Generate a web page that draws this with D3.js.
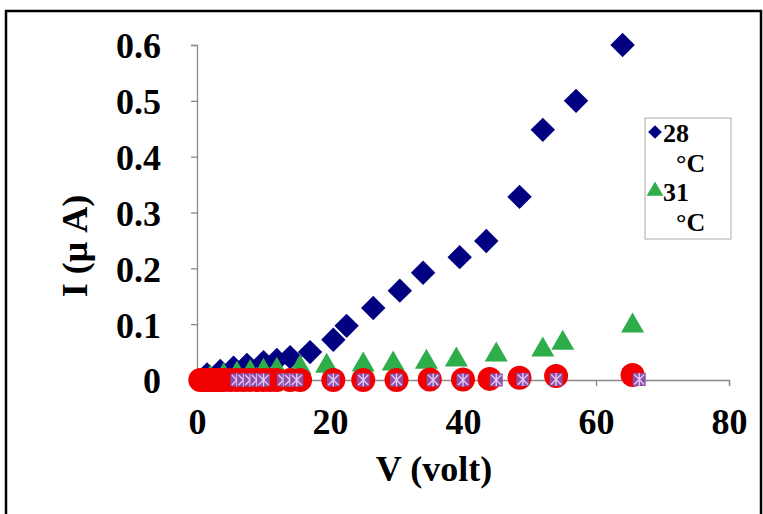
<!DOCTYPE html>
<html><head><meta charset="utf-8">
<script src="https://cdn.jsdelivr.net/npm/d3@7"></script>
<style>body{margin:0;background:#fff;}svg{display:block;}</style>
</head><body>
<script>
// ---- data ----
const xTicks = [0, 20, 40, 60, 80];
const yTicks = [0, 0.1, 0.2, 0.3, 0.4, 0.5, 0.6];
const v28 = [1.5, 3.5, 5.5, 7.5, 10, 12, 14, 17, 20.5, 22.5, 26.5, 30.5, 34, 39.5, 43.5, 48.5, 52, 57, 64];
const i28 = [0.01, 0.016, 0.022, 0.027, 0.032, 0.036, 0.041, 0.05, 0.072, 0.097, 0.129, 0.16, 0.192, 0.22, 0.249, 0.328, 0.448, 0.5, 0.6];
const v31 = [2, 4, 6, 8, 10, 12, 15.5, 19.5, 25, 29.5, 34.5, 39, 45, 52, 55, 65.5];
const i31 = [0.004, 0.008, 0.011, 0.014, 0.016, 0.018, 0.022, 0.025, 0.027, 0.029, 0.032, 0.036, 0.045, 0.054, 0.066, 0.097];
const vRed = [0.5, 1, 1.5, 2, 2.5, 3, 3.5, 4, 5, 6, 7, 8, 9, 10, 11, 12, 14, 15.5, 20.5, 25, 30, 35, 40, 44, 48.5, 54, 65.5];
const iRed = [0, 0, 0, 0, 0, 0, 0, 0, 0, 0, 0, 0, 0, 0, 0, 0, 0, 0, 0, 0, 0, 0.001, 0.001, 0.002, 0.004, 0.007, 0.009];
const vPur = [6, 7, 8, 9, 10, 13, 14, 15, 20.5, 25, 30, 35.5, 40, 45, 49, 54, 66.5];
const iPur = [0, 0, 0, 0, 0, 0, 0, 0, 0, 0, 0, 0, 0, 0, 0.001, 0.001, 0.001];
const legendLabels = [["28", "°C"], ["31", "°C"]];
const xTitle = "V (volt)";
const yTitle = "I (μ A)";

// ---- drawing ----
const W = 763, H = 514;
const svg = d3.select("body").append("svg").attr("width", W).attr("height", H);
svg.append("rect").attr("width", W).attr("height", H).attr("fill", "#fff");
svg.append("rect").attr("x", 6).attr("y", 11).attr("width", 755).attr("height", 520)
  .attr("fill", "none").attr("stroke", "#000").attr("stroke-width", 2.5);

const x = d3.scaleLinear().domain([0, 80]).range([197, 729]);
const y = d3.scaleLinear().domain([0, 0.6]).range([380, 45]);
const font = "'Liberation Serif', 'Times New Roman', serif";

const xAxis = svg.append("g").attr("transform", `translate(0,${y(0)})`)
  .call(d3.axisBottom(x).tickValues(xTicks).tickSize(6).tickPadding(22).tickFormat(d3.format("d")));
const yAxis = svg.append("g").attr("transform", `translate(${x(0)},0)`)
  .call(d3.axisLeft(y).tickValues(yTicks).tickSize(6).tickPadding(30).tickFormat(d => d === 0 ? "0" : d3.format(".1f")(d)));
[xAxis, yAxis].forEach(g => {
  g.select(".domain").attr("stroke", "#8a8a8a").attr("stroke-width", 1.3);
  g.selectAll(".tick line").attr("stroke", "#8a8a8a").attr("stroke-width", 1.3);
  g.selectAll(".tick text").attr("fill", "#000").style("font-family", font)
    .style("font-weight", "bold").style("font-size", "36px");
});
xAxis.selectAll(".tick text").attr("dy", "0.71em");
yAxis.selectAll(".tick text").attr("dy", "0.36em");

svg.append("text").attr("x", 434).attr("y", 481).attr("text-anchor", "middle")
  .style("font-family", font).style("font-weight", "bold").style("font-size", "36px").text(xTitle);
svg.append("text").attr("transform", "translate(87,246) rotate(-90)").attr("text-anchor", "middle")
  .style("font-family", font).style("font-weight", "bold").style("font-size", "36px").text(yTitle);

const diamond = d3.symbol().type(d3.symbolDiamond2).size(380);
const tri = d3.symbol().type(d3.symbolTriangle).size(230);

const d28 = v28.map((v, k) => ({v, i: i28[k]}));
const d31 = v31.map((v, k) => ({v, i: i31[k]}));
const dRed = vRed.map((v, k) => ({v, i: iRed[k]}));
const dPur = vPur.map((v, k) => ({v, i: iPur[k]}));

svg.append("g").selectAll("path").data(d28).join("path")
  .attr("d", diamond).attr("transform", d => `translate(${x(d.v)},${y(d.i)})`)
  .attr("fill", "#000080");
svg.append("g").selectAll("path").data(d31).join("path")
  .attr("d", tri).attr("transform", d => `translate(${x(d.v)},${y(d.i)})`)
  .attr("fill", "#2eae4a");
svg.append("g").selectAll("circle").data(dRed).join("circle")
  .attr("cx", d => x(d.v)).attr("cy", d => y(d.i)).attr("r", 12).attr("fill", "#f00000");
const pg = svg.append("g").selectAll("g").data(dPur).join("g")
  .attr("transform", d => `translate(${x(d.v)},${y(d.i)})`);
pg.append("rect").attr("x", -6.5).attr("y", -6.5).attr("width", 13).attr("height", 13).attr("fill", "#8e4fa8");
pg.append("path").attr("d", "M-5,-5L5,5M-5,5L5,-5M0,-6.5L0,6.5").attr("stroke", "#e6c8f2").attr("stroke-width", 1.4);

// legend
const lg = svg.append("g");
lg.append("rect").attr("x", 645).attr("y", 118).attr("width", 86).attr("height", 121)
  .attr("fill", "#fff").attr("stroke", "#aaa").attr("stroke-width", 1);
const legMarks = [{sym: d3.symbol().type(d3.symbolDiamond2).size(120), col: "#000080"},
                  {sym: d3.symbol().type(d3.symbolTriangle).size(120), col: "#2eae4a"}];
legendLabels.forEach((lab, k) => {
  const top = 118 + k * 59;
  lg.append("path").attr("d", legMarks[k].sym).attr("fill", legMarks[k].col)
    .attr("transform", `translate(655,${top + 14})`);
  lg.append("text").attr("x", 663).attr("y", top + 24).style("font-family", font)
    .style("font-weight", "bold").style("font-size", "26px").text(lab[0]);
  lg.append("text").attr("x", 676).attr("y", top + 54).style("font-family", font)
    .style("font-weight", "bold").style("font-size", "26px").text(lab[1]);
});
</script>
</body></html>
